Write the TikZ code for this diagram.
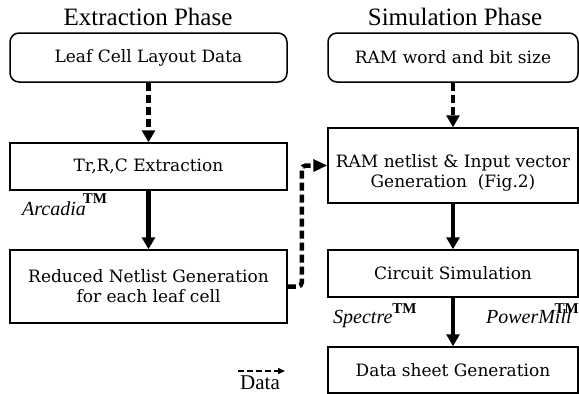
\documentclass[tikz,border=0pt]{standalone}
\usepackage{fontspec}
\setmainfont{Liberation Serif}
\newfontfamily\boxfont{DejaVu Serif}
\usetikzlibrary{arrows.meta}
\newcommand{\tmark}{{\upshape\bfseries\fontsize{15}{16}\selectfont TM}}
\begin{document}
\begin{tikzpicture}[x=1pt,y=-1pt,
  box/.style={draw,line width=1.5pt,inner sep=0pt,font=\boxfont\fontsize{17}{20}\selectfont,align=center},
  rbox/.style={box,rounded corners=9pt},
  thickarrow/.style={line width=4.5pt,-{Triangle[length=12pt,width=13pt]}},
  dasharrow/.style={thickarrow,dash pattern=on 8pt off 4pt},
  phasetitle/.style={font=\fontsize{25}{28}\selectfont,anchor=base,inner sep=0pt},
  toolname/.style={font=\itshape\fontsize{20}{22}\selectfont,inner sep=0pt}]
\useasboundingbox (0,0) rectangle (579,394);

% titles
\node[phasetitle] (t1) at (148,25) {Extraction Phase};
\node[phasetitle] (t2) at (455,25) {Simulation Phase};

% left column
\node[rbox,minimum width=277pt,minimum height=49pt] (leaf) at (148.5,57.5) {Leaf Cell Layout Data};
\node[box,minimum width=277pt,minimum height=47pt] (trc) at (148.5,166.5) {Tr,R,C Extraction};
\node[box,minimum width=277pt,minimum height=73pt] (red) at (148.5,286.5) {Reduced Netlist Generation\\for each leaf cell};

% right column
\node[rbox,minimum width=250pt,minimum height=49pt] (ram) at (453,57.5) {RAM word and bit size};
\node[box,minimum width=250pt,minimum height=75pt] (net) at (453,165.5) {};
\node[font=\boxfont\fontsize{17}{20}\selectfont,align=center,inner sep=0pt] (nettext) at (453,173) {RAM netlist \& Input vector\\Generation\ \ (Fig.2)};
\node[box,minimum width=250pt,minimum height=47pt] (circ) at (453,273.5) {Circuit Simulation};
\node[box,minimum width=250pt,minimum height=46pt] (sheet) at (453,370) {Data sheet Generation};

% connectors
\draw[dasharrow] (leaf) -- (trc);
\draw[thickarrow] (trc) -- (red);
\draw[dasharrow] (ram) -- (net);
\draw[thickarrow] (net) -- (circ);
\draw[thickarrow] (circ) -- (sheet);
\draw[line width=4.5pt,dash pattern=on 8pt off 4pt,rounded corners=4pt,-{Triangle[length=14pt,width=12pt]}]
  (red.east) -- ++(14,0) |- (net.west);

% tool names
\node[toolname,anchor=base west] (arc) at (22,215) {Arcadia\hspace{-3pt}\raisebox{12pt}{\tmark}};
\node[toolname,anchor=base west] (spe) at (333,323) {Spectre\raisebox{10pt}{\tmark}};
\node[toolname,anchor=base east] (pm) at (579,323) {PowerMill\hspace{-17pt}\raisebox{10pt}{\tmark}};

% legend
\coordinate (la) at (238,371);
\coordinate (lb) at (285,371);
\draw[line width=1.5pt,dash pattern=on 6pt off 3pt,-{Triangle[length=7pt,width=6pt]}] (la) -- (lb);
\node[font=\fontsize{21}{24}\selectfont,anchor=base,inner sep=0pt] (data) at (260,389) {Data};
\end{tikzpicture}
\end{document}
